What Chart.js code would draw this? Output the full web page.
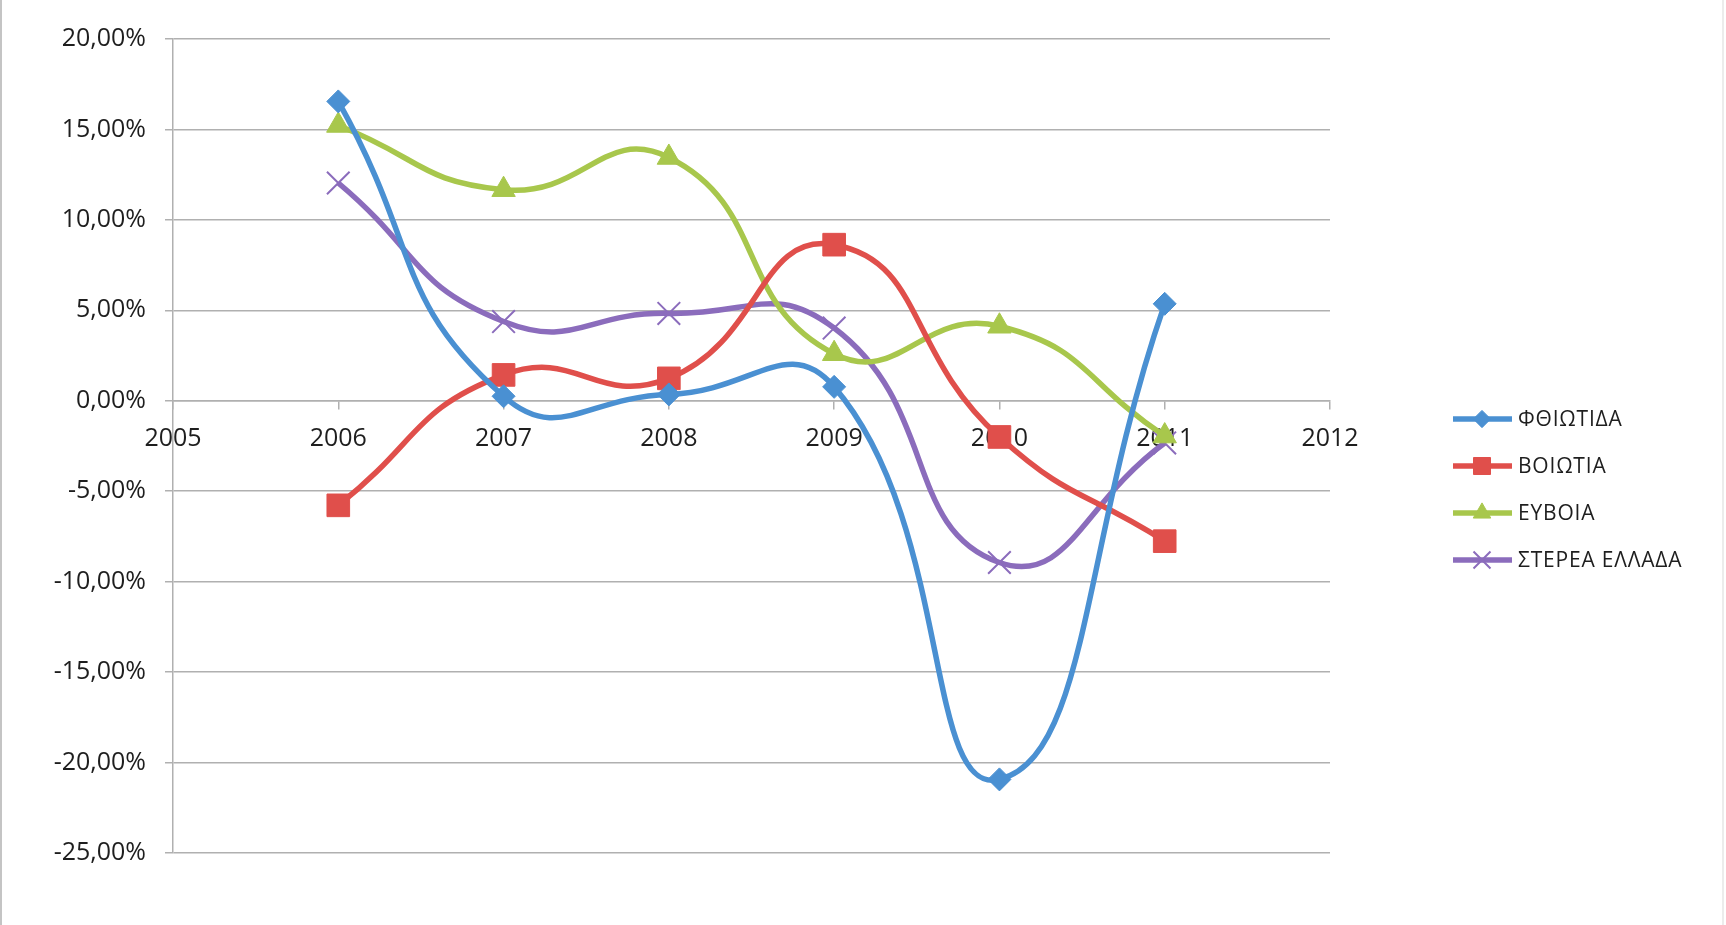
<!DOCTYPE html>
<html>
<head>
<meta charset="utf-8">
<title>Στερεά Ελλάδα</title>
<script src="https://cdn.jsdelivr.net/npm/chart.js@4.4.0/dist/chart.umd.min.js"></script>
<style>
    html, body { margin: 0; padding: 0; background: #fff; }
    #wrap { position: relative; width: 1726px; height: 925px; }
    .edge { position: absolute; top: 0; width: 2px; height: 925px; }
</style>
</head>
<body>
<div id="wrap">
    <canvas id="chart" width="1726" height="925"></canvas>
    <div class="edge" style="left:0; background:#c4c4c4;"></div>
    <div class="edge" style="left:1722px; background:#ececec;"></div>
</div>
<script>
// Data (percent change per year)
const years = [2006, 2007, 2008, 2009, 2010, 2011];
const fthiotida = [16.55, 0.25, 0.35, 0.77, -20.93, 5.36];
const voiotia = [-5.78, 1.43, 1.24, 8.63, -2.0, -7.76];
const evoia = [15.22, 11.67, 13.45, 2.6, 4.12, -1.95];
const sterea = [12.04, 4.38, 4.83, 4.02, -8.94, -2.33];

const seriesNames = ['ΦΘΙΩΤΙΔΑ', 'ΒΟΙΩΤΙΑ', 'ΕΥΒΟΙΑ', 'ΣΤΕΡΕΑ ΕΛΛΑΔΑ'];
const xMin = 2005, xMax = 2012;
const yMin = -25, yMax = 20, yStep = 5;

const FONT = '"Open Sans", "DejaVu Sans", sans-serif';
const TEXT = '#1e1e1e';
const GRID = '#b0b0b0';

function toPoints(vals) {
    return years.map((yr, i) => ({ x: yr, y: vals[i] }));
}

function series(label, vals, color, style, radius, pbw) {
    return {
        label: label,
        data: toPoints(vals),
        borderColor: color,
        backgroundColor: color,
        borderWidth: 5.5,
        tension: 0.5,
        pointStyle: style,
        pointRadius: radius,
        pointBorderWidth: pbw,
        pointBackgroundColor: color,
        pointBorderColor: color
    };
}

// Legend on the right: line with marker, drawn after the chart
const sideLegend = {
    id: 'sideLegend',
    afterDraw(chart) {
        const ctx = chart.ctx;
        const top = 419, gap = 47;
        chart.data.datasets.forEach((ds, i) => {
            const y = top + i * gap;
            ctx.save();
            ctx.strokeStyle = ds.borderColor;
            ctx.lineWidth = 5.5;
            ctx.beginPath();
            ctx.moveTo(1453, y);
            ctx.lineTo(1512, y);
            ctx.stroke();
            ctx.fillStyle = ds.borderColor;
            ctx.lineWidth = ds.pointBorderWidth;
            Chart.helpers.drawPoint(ctx, {
                pointStyle: ds.pointStyle,
                radius: ds.pointRadius * 0.75,
                rotation: 0,
                borderWidth: ds.pointBorderWidth
            }, 1482, y);
            ctx.restore();

            ctx.save();
            ctx.fillStyle = TEXT;
            ctx.font = '21px ' + FONT;
            ctx.letterSpacing = '0.8px';
            ctx.textBaseline = 'middle';
            ctx.textAlign = 'left';
            ctx.fillText(ds.label, 1518, y + 1);
            ctx.restore();
        });
    }
};

new Chart(document.getElementById('chart'), {
    type: 'line',
    data: {
        datasets: [
            series(seriesNames[0], fthiotida, '#4a90d2', 'rectRot', 11.5, 1),
            series(seriesNames[1], voiotia, '#e04f4b', 'rect', 16, 1),
            series(seriesNames[2], evoia, '#a8c74c', 'triangle', 13.5, 1),
            series(seriesNames[3], sterea, '#8b6cbc', 'crossRot', 16, 2)
        ]
    },
    options: {
        responsive: false,
        animation: false,
        events: [],
        layout: { padding: { left: 0, right: 396, top: 39, bottom: 72 } },
        plugins: {
            legend: { display: false },
            tooltip: { enabled: false }
        },
        scales: {
            x: {
                type: 'linear',
                position: { y: 0 },
                min: xMin,
                max: xMax,
                ticks: {
                    stepSize: 1,
                    color: TEXT,
                    font: { family: FONT, size: 25 },
                    padding: 15,
                    maxRotation: 0,
                    callback: (v) => String(v)
                },
                grid: { drawOnChartArea: false, drawTicks: true, tickLength: 8, color: GRID, lineWidth: 1.5 },
                border: { display: true, color: GRID, width: 1.5 }
            },
            y: {
                min: yMin,
                max: yMax,
                afterFit: (scale) => { scale.width = 173; },
                ticks: {
                    stepSize: yStep,
                    color: TEXT,
                    font: { family: FONT, size: 25 },
                    padding: 19,
                    callback: (v) => v.toFixed(2).replace('.', ',') + '%'
                },
                grid: { color: GRID, lineWidth: 1.5, tickLength: 8 },
                border: { display: true, color: GRID, width: 1.5 }
            }
        }
    },
    plugins: [sideLegend]
});
</script>
</body>
</html>
